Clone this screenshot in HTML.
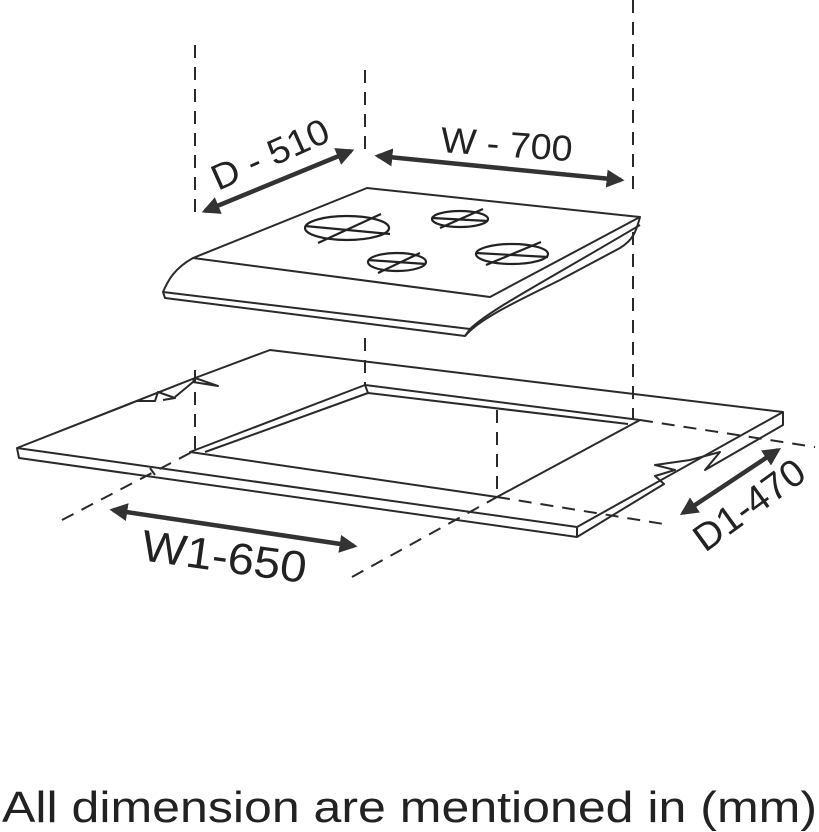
<!DOCTYPE html>
<html><head><meta charset="utf-8"><style>
html,body{margin:0;padding:0;background:#fff;width:819px;height:832px;overflow:hidden}
</style></head><body>
<svg width="819" height="832" viewBox="0 0 819 832" xmlns="http://www.w3.org/2000/svg">
<defs>
<marker id="ah" viewBox="0 0 10 10" refX="8" refY="5" markerWidth="4" markerHeight="4" orient="auto-start-reverse">
<path d="M0,0 L10,5 L0,10 z" fill="#333"/></marker>
</defs>
<g fill="none" stroke="#2a2a2a" stroke-width="2" stroke-dasharray="13,9">
<line x1="195" y1="45" x2="195" y2="215"/>
<line x1="195" y1="370" x2="195" y2="452"/>
<line x1="365" y1="70" x2="365" y2="150"/>
<line x1="365" y1="338" x2="365" y2="385"/>
<line x1="633" y1="0" x2="633" y2="195"/>
<line x1="633" y1="232" x2="633" y2="420"/>
<line x1="497" y1="410" x2="497" y2="497"/>
<line x1="62" y1="520" x2="192" y2="452"/>
<line x1="352" y1="577" x2="497" y2="497"/>
<line x1="497" y1="497" x2="670" y2="525"/>
<line x1="640" y1="420" x2="815" y2="447"/>
</g>
<g fill="none" stroke="#2a2a2a" stroke-width="2" stroke-linejoin="round">
<path d="M17,448 L137,401 L155,401 L158,392 L175,398 L163,400 M175,397 L193,382 L218,386 L195,378 L193,382 M195,378 L270,350 L783,412 L783,425 L705,470 L720,452 L690,460 L655,465 L675,470 L655,476 L664,484 L577,537 L19,458 L17,448 Z"/>
<path d="M17,448 L577,527 L577,537 M577,527 L783,412"/>
<line x1="150" y1="468" x2="155" y2="475"/>
<path d="M190,452 L365,385 L640,420 L497,497 Z"/>
<path d="M205,452 L368,393 L628,424"/>
<path d="M365,385 L368,393"/>
<path d="M193,258 L367,188 L640,217 L490,297 Z"/>
<path d="M193,258 C175,268 168,280 163,292 L165,298 L465,336 C480,318 520,300 560,280 L620,248 C633,240 636,232 640,217"/>
<path d="M163,292 L470,329 C490,310 530,290 640,225"/>
<path d="M470,329 L465,336"/>
</g>
<g fill="none" stroke="#222" stroke-width="2.2">
<ellipse cx="347" cy="228" rx="42" ry="12"/>
<line x1="305" y1="226" x2="390" y2="234"/><line x1="318" y1="243" x2="381" y2="214"/>
<ellipse cx="460" cy="219" rx="28" ry="8"/>
<line x1="432" y1="218" x2="488" y2="221"/><line x1="440" y1="228" x2="483" y2="209"/>
<ellipse cx="397" cy="262" rx="29" ry="9"/>
<line x1="368" y1="260" x2="426" y2="264"/><line x1="378" y1="273" x2="420" y2="253"/>
<ellipse cx="512" cy="254" rx="36" ry="10"/>
<line x1="476" y1="253" x2="548" y2="257"/><line x1="486" y1="265" x2="541" y2="242"/>
</g>
<g stroke="#333" stroke-width="4.5" marker-start="url(#ah)" marker-end="url(#ah)">
<line x1="205" y1="211" x2="351" y2="151"/>
<line x1="378" y1="156" x2="621" y2="180"/>
<line x1="113" y1="510" x2="354" y2="546"/>
<line x1="778" y1="450" x2="683" y2="513"/>
</g>
<g font-family="Liberation Sans, sans-serif" fill="#222">
<text x="0" y="0" font-size="36" transform="translate(218,191) rotate(-24)" textLength="125" lengthAdjust="spacingAndGlyphs">D - 510</text>
<text x="0" y="0" font-size="36" transform="translate(440,152) rotate(4)" textLength="132" lengthAdjust="spacingAndGlyphs">W - 700</text>
<text x="0" y="0" font-size="44" transform="translate(140,560) rotate(8)" textLength="166" lengthAdjust="spacingAndGlyphs">W1-650</text>
<text x="0" y="0" font-size="38" transform="translate(705,553) rotate(-36)" textLength="128" lengthAdjust="spacingAndGlyphs">D1-470</text>
<text x="2" y="822" font-size="44" textLength="815" lengthAdjust="spacingAndGlyphs">All dimension are mentioned in (mm)</text>
</g>
</svg>
</body></html>
